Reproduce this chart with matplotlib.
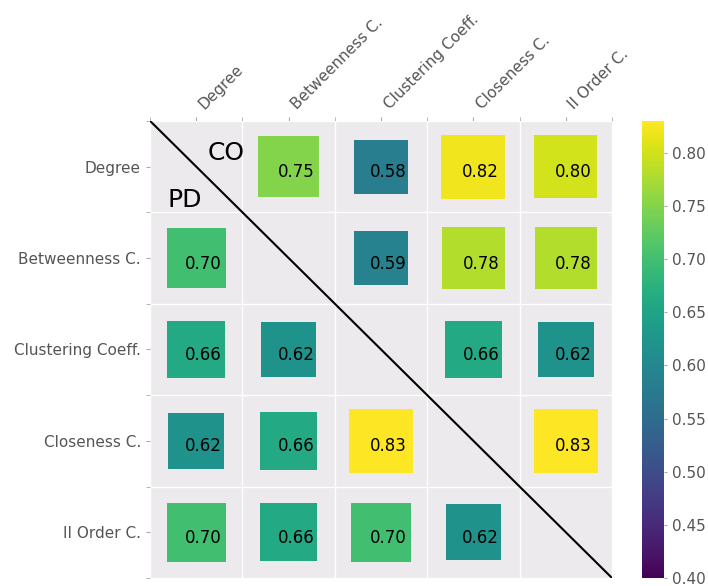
import matplotlib
matplotlib.use('Agg')
import matplotlib.pyplot as plt
import numpy as np

# labels of the centrality measures
labels = ['Degree', 'Betweenness C.', 'Clustering Coeff.', 'Closeness C.', 'II Order C.']

# upper triangle = CO, lower triangle = PD (nan on the diagonal)
row_degree = [np.nan, 0.75, 0.58, 0.82, 0.80]
row_betweenness = [0.70, np.nan, 0.59, 0.78, 0.78]
row_clustering = [0.66, 0.62, np.nan, 0.66, 0.62]
row_closeness = [0.62, 0.66, 0.83, np.nan, 0.83]
row_second = [0.70, 0.66, 0.70, 0.62, np.nan]

M = np.array([row_degree, row_betweenness, row_clustering, row_closeness, row_second])

vmin = 0.40
vmax = 0.83
cbar_ticks = [0.40, 0.45, 0.50, 0.55, 0.60, 0.65, 0.70, 0.75, 0.80]

bg = '#ECEAEC'
tick_grey = '#555555'

fig = plt.figure(figsize=(7.08, 5.86), dpi=100)
ax = fig.add_axes([0.2119, 0.0137, 0.6525, 0.780])

n = len(labels)
xs, ys, vals = [], [], []
for i in range(n):
    for j in range(n):
        if not np.isnan(M[i, j]):
            xs.append(j)
            ys.append(i)
            vals.append(M[i, j])
xs = np.array(xs)
ys = np.array(ys)
vals = np.array(vals)

sc = ax.scatter(xs, ys, s=vals * 2600, c=vals, cmap='viridis', vmin=vmin, vmax=vmax,
                marker='s', edgecolors='none', zorder=3)

for x, y, v in zip(xs, ys, vals):
    ax.text(x + 0.08, y + 0.06, '%.2f' % v, ha='center', va='center', fontsize=12,
            color='black', zorder=4)

# diagonal separating the two networks
ax.plot([-0.5, n - 0.5], [-0.5, n - 0.5], color='black', lw=1.5, zorder=5)
ax.text(0.32, -0.15, 'CO', fontsize=18, ha='center', va='center', zorder=5)
ax.text(-0.12, 0.37, 'PD', fontsize=18, ha='center', va='center', zorder=5)

ax.set_xlim(-0.5, n - 0.5)
ax.set_ylim(n - 0.5, -0.5)
ax.set_facecolor(bg)
ax.set_xticks(range(n))
ax.set_yticks(range(n))
ax.set_xticklabels(labels, rotation=45, ha='left')
ax.set_yticklabels(labels)
ax.xaxis.tick_top()
ax.set_xticks(np.arange(-0.5, n, 1), minor=True)
ax.set_yticks(np.arange(-0.5, n, 1), minor=True)
ax.grid(False, 'major')
ax.grid(True, 'minor', color='white', lw=1)
ax.tick_params(which='both', colors='#AAAAAA', labelcolor=tick_grey, labelsize=11, length=3)
for sp in ax.spines.values():
    sp.set_visible(False)
ax.set_axisbelow(True)

# colour bar on the right
cax = fig.add_axes([0.9068, 0.0137, 0.0311, 0.780])
cb = fig.colorbar(sc, cax=cax, ticks=cbar_ticks)
cb.outline.set_visible(False)
cb.ax.tick_params(colors='#AAAAAA', labelcolor=tick_grey, labelsize=11, length=2)
cb.ax.set_yticklabels(['%.2f' % t for t in cbar_ticks])

plt.savefig('out.png', dpi=100)
